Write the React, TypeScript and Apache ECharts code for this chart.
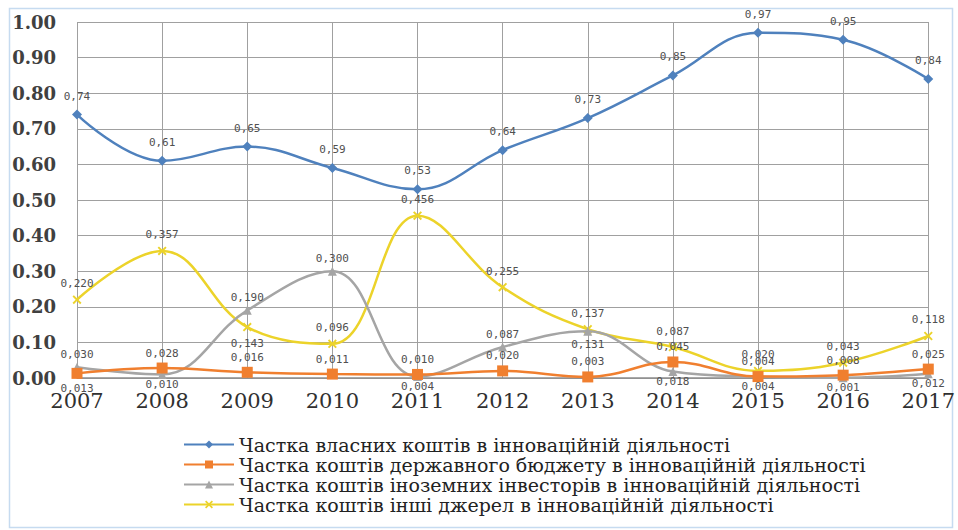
import React, { useEffect, useRef } from "react";
import * as echarts from "echarts";

const years = ["2007", "2008", "2009", "2010", "2011", "2012", "2013", "2014", "2015", "2016", "2017"];
const ownFunds = [0.74, 0.61, 0.65, 0.59, 0.53, 0.64, 0.73, 0.85, 0.97, 0.95, 0.84];
const stateBudget = [0.013, 0.028, 0.016, 0.011, 0.010, 0.020, 0.003, 0.045, 0.004, 0.008, 0.025];
const foreignInvestors = [0.030, 0.010, 0.190, 0.300, 0.004, 0.087, 0.131, 0.018, 0.004, 0.001, 0.012];
const otherSources = [0.220, 0.357, 0.143, 0.096, 0.456, 0.255, 0.137, 0.087, 0.020, 0.043, 0.118];

const seriesNames = [
  "Частка власних коштів в інноваційній діяльності",
  "Частка коштів державного бюджету в інноваційній діяльності",
  "Частка коштів іноземних інвесторів в інноваційній діяльності",
  "Частка коштів інші джерел в інноваційній діяльності",
];

const colors = ["#4f81bd", "#f07f2f", "#a5a5a5", "#ecd32a"];

const SERIF = "DejaVu Serif";

const fmt = (d: number) => (v: any) => Number(v.value).toFixed(d).replace(".", ",");

const labelStyle = {
  fontFamily: "DejaVu Sans Mono",
  fontSize: 11,
  color: "#505050",
};

export default function App() {
  const ref = useRef<HTMLDivElement>(null);
  useEffect(() => {
    if (!ref.current) return;
    const chart = echarts.init(ref.current, null, { renderer: "svg" });
    const xPath = "path://M0,1.5L1.5,0L5,3.5L8.5,0L10,1.5L6.5,5L10,8.5L8.5,10L5,6.5L1.5,10L0,8.5L3.5,5Z";

    const orangeData = stateBudget.map((v, i) => ({
      value: v,
      label: { position: v >= foreignInvestors[i] || foreignInvestors[i] > 0.05 ? "top" : "bottom" },
    }));
    const grayData = foreignInvestors.map((v, i) => {
      const gap = otherSources[i] - v;
      const top = v > stateBudget[i] && !(gap >= 0 && gap < 0.02);
      return {
        value: v,
        label: top ? { position: "top", distance: 3 } : { position: "bottom", distance: v < 0.05 ? 0 : 3 },
      };
    });
    const yellowData = otherSources.map((v, i) => {
      const gap = foreignInvestors[i] - v;
      return { value: v, label: { position: gap > 0 && gap < 0.06 ? "bottom" : "top" } };
    });

    chart.setOption({
      animation: false,
      backgroundColor: "#ffffff",
      grid: { left: 77, right: 28, top: 22, bottom: 152, containLabel: false },
      legend: {
        orient: "vertical",
        left: 178,
        top: 430,
        itemGap: 1,
        itemWidth: 50,
        itemHeight: 10,
        textStyle: { fontFamily: SERIF, fontSize: 19, color: "#222" },
        data: seriesNames,
      },
      xAxis: {
        type: "category",
        data: years,
        boundaryGap: false,
        axisLine: { lineStyle: { color: "#8c8c8c", width: 1.5 } },
        axisTick: { show: false },
        splitLine: { show: true, lineStyle: { color: "#a0a0a0", width: 1 } },
        axisLabel: {
          fontFamily: SERIF,
          fontSize: 21,
          color: "#303030",
          margin: 12,
        },
      },
      yAxis: {
        type: "value",
        min: 0,
        max: 1,
        interval: 0.1,
        axisLine: { show: false },
        axisTick: { show: false },
        splitLine: { lineStyle: { color: "#a0a0a0", width: 1 } },
        axisLabel: {
          fontFamily: SERIF,
          fontSize: 18,
          fontWeight: "bold",
          color: "#404040",
          margin: 21,
          formatter: (v: number) => v.toFixed(2),
        },
      },
      graphic: [
        {
          type: "rect",
          shape: { x: 9.5, y: 8.5, width: 943, height: 519 },
          style: { fill: "none", stroke: "#c6dbf0", lineWidth: 1.5 },
          silent: true,
          z: -1,
        },
      ],
      series: [
        {
          name: seriesNames[0],
          type: "line",
          data: ownFunds,
          smooth: 0.4,
          symbol: "diamond",
          symbolSize: 10,
          color: colors[0],
          lineStyle: { width: 2.5 },
          label: { show: true, position: "top", distance: 8, formatter: fmt(2), ...labelStyle },
          z: 4,
        },
        {
          name: seriesNames[1],
          type: "line",
          data: orangeData,
          smooth: 0.4,
          symbol: "rect",
          symbolSize: 11,
          color: colors[1],
          lineStyle: { width: 2.5 },
          label: { show: true, distance: 4, formatter: fmt(3), ...labelStyle },
          z: 3,
        },
        {
          name: seriesNames[2],
          type: "line",
          data: grayData,
          smooth: 0.4,
          symbol: "triangle",
          symbolSize: 9,
          color: colors[2],
          lineStyle: { width: 2.5 },
          label: { show: true, formatter: fmt(3), ...labelStyle },
          z: 2,
        },
        {
          name: seriesNames[3],
          type: "line",
          data: yellowData,
          smooth: 0.4,
          symbol: xPath,
          symbolSize: 9,
          color: colors[3],
          lineStyle: { width: 2.5 },
          label: { show: true, distance: 6, formatter: fmt(3), ...labelStyle },
          z: 1,
        },
      ],
    });
    return () => chart.dispose();
  }, []);
  return <div ref={ref} style={{ width: 958, height: 530, position: "absolute", left: 0, top: 0 }} />;
}
